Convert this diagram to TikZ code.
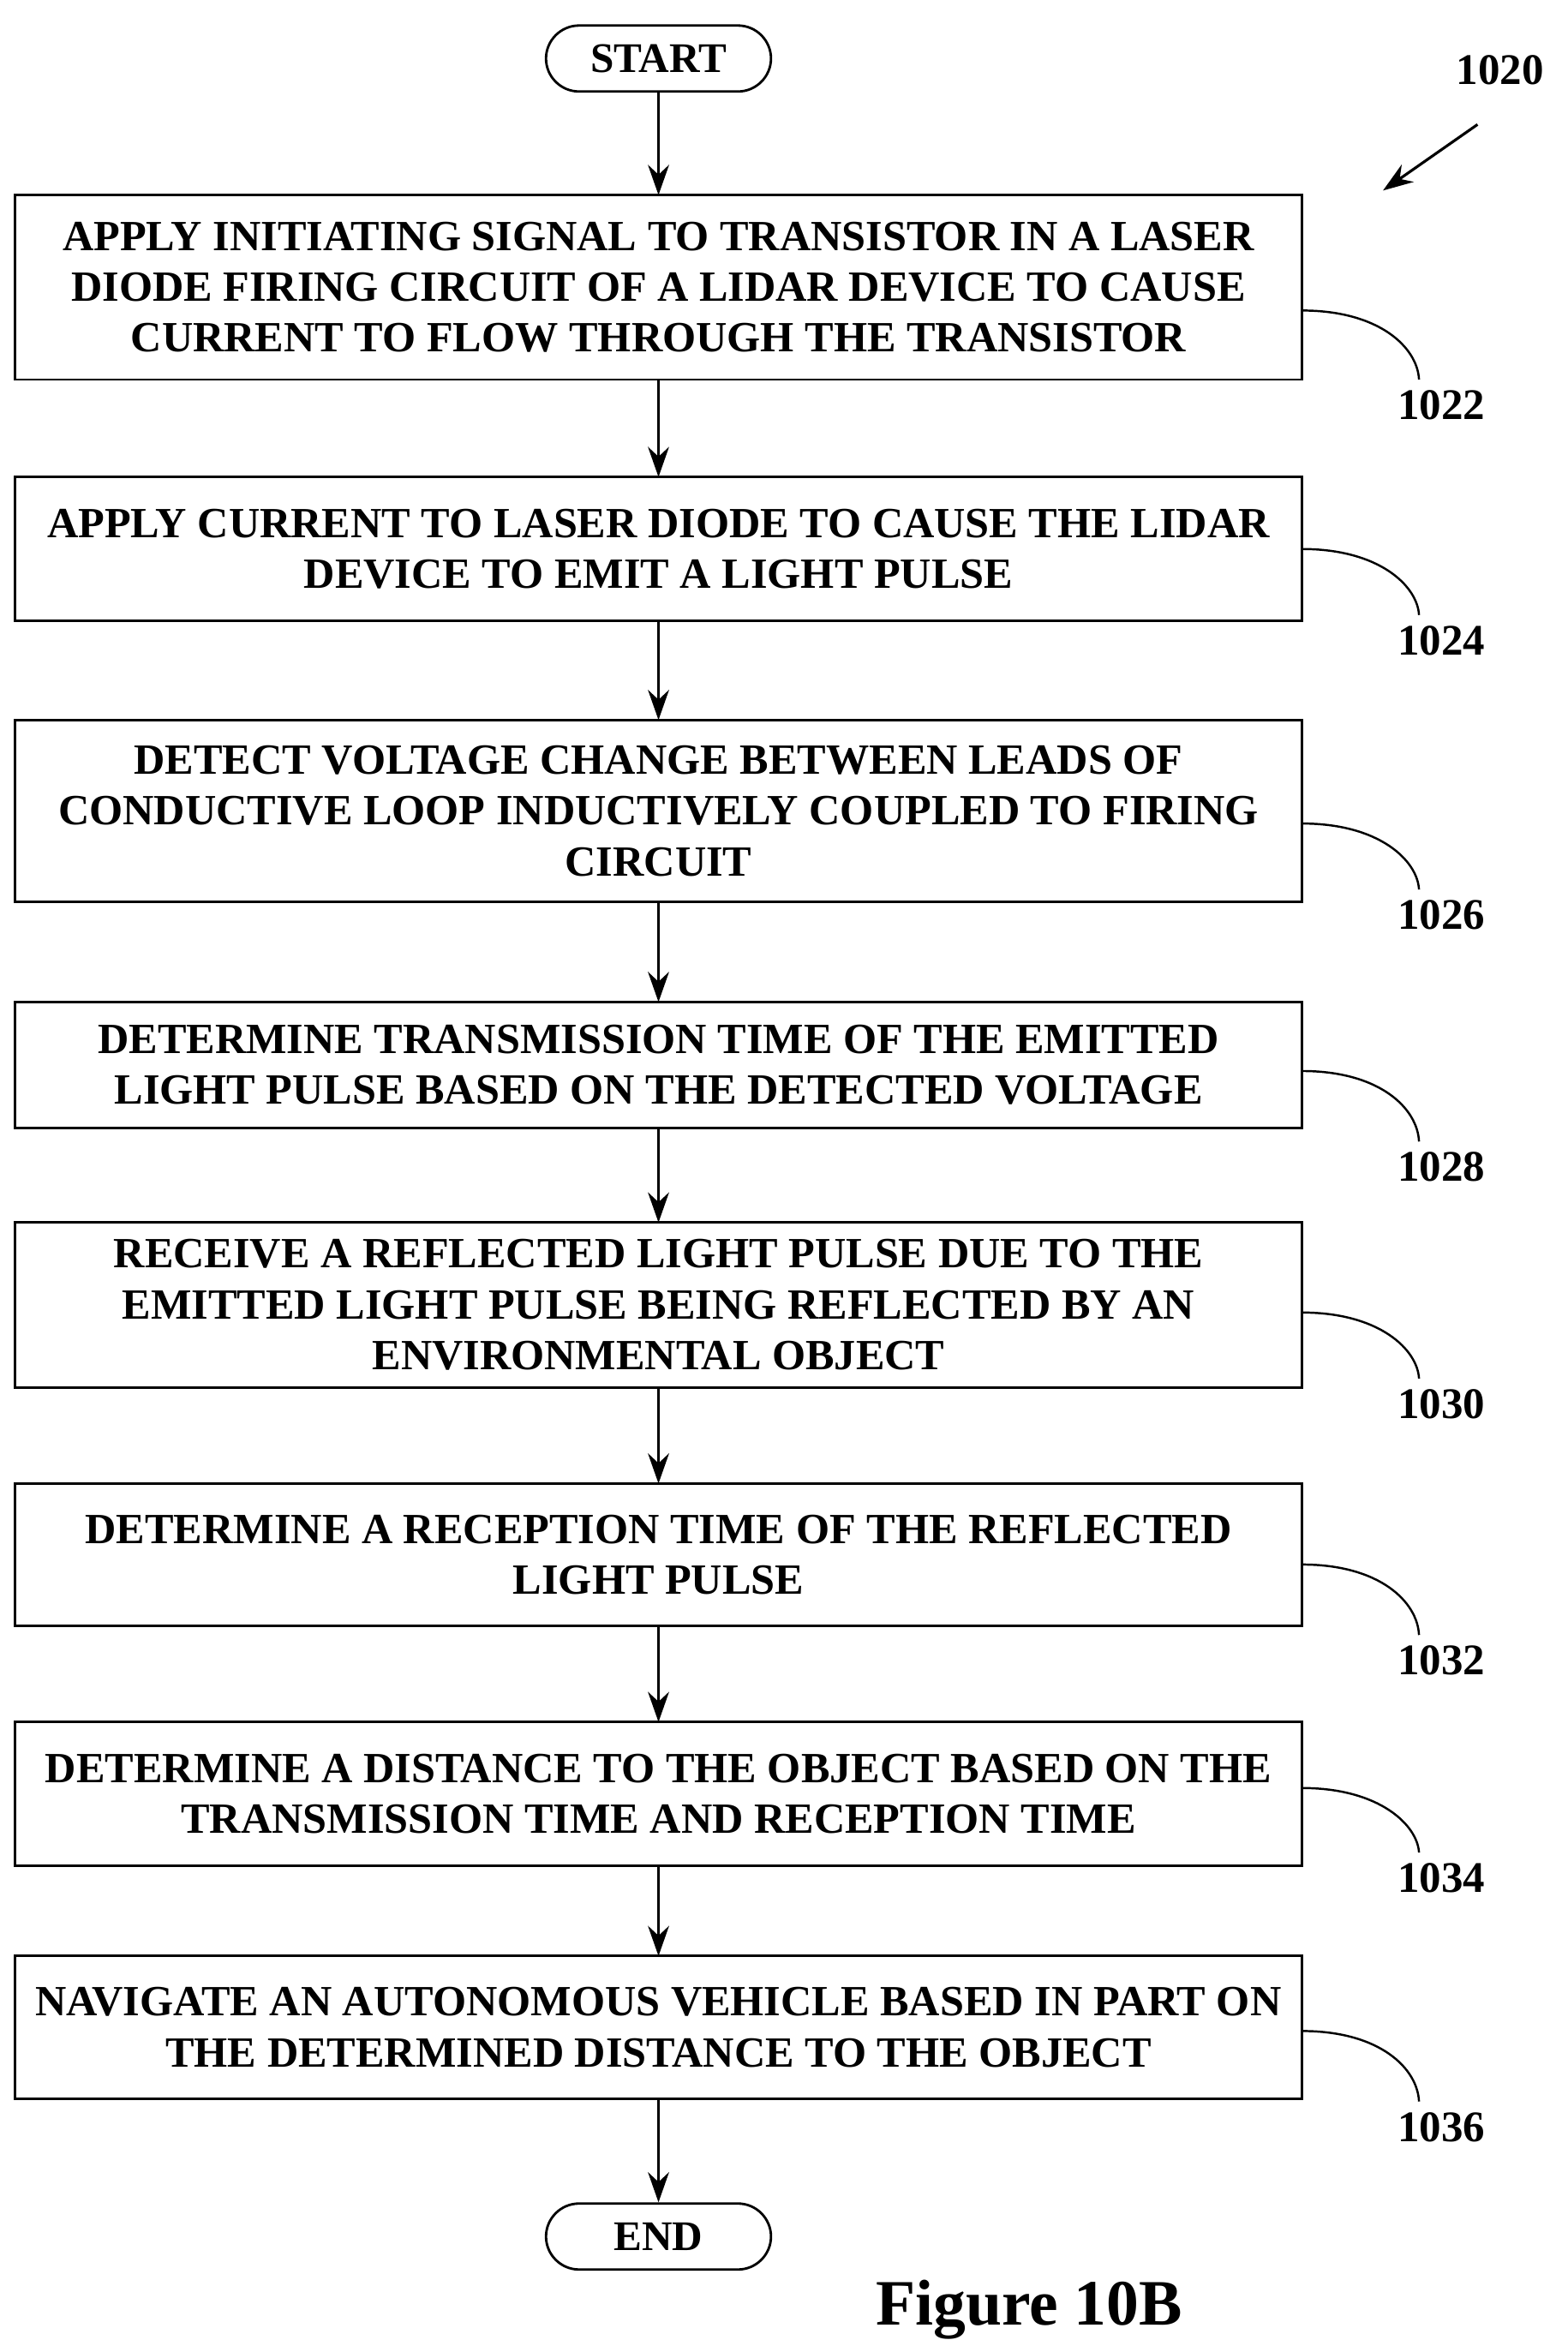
\documentclass[tikz,border=0pt]{standalone}
\usepackage{fontspec}
\setmainfont{Liberation Serif}
\usetikzlibrary{arrows.meta}
\begin{document}
\begin{tikzpicture}[x=0.0175cm,y=-0.0175cm,
  stepbox/.style={draw,line width=0.8pt,inner sep=0},
  txt/.style={align=center,font=\bfseries\fontsize{14.3}{16.9}\selectfont},
  term/.style={draw,line width=0.8pt,rounded corners=11pt,minimum width=150*0.0175cm,minimum height=44*0.0175cm,font=\bfseries\fontsize{14}{16}\selectfont},
  arr/.style={line width=0.9pt,-{Stealth[length=10pt,width=7pt]}},
  lead/.style={line width=0.7pt},
  num/.style={font=\bfseries\fontsize{14.5}{16}\selectfont}]
\useasboundingbox (0,0) rectangle (1045,1564);
\node[term] (start) at (439,39) {START};
\node[term] (end) at (439,1491) {END};
\def\bx#1#2#3#4{\draw[line width=0.8pt] (10,#2) rectangle (868,#3); \node[txt] (#1) at (439,{(#2+#3)/2}) {#4};
 \coordinate (#1t) at (439,#2); \coordinate (#1b) at (439,#3);}
\bx{b1}{130}{253}{APPLY INITIATING SIGNAL TO TRANSISTOR IN A LASER\\DIODE FIRING CIRCUIT OF A LIDAR DEVICE TO CAUSE\\CURRENT TO FLOW THROUGH THE TRANSISTOR}
\bx{b2}{318}{414}{APPLY CURRENT TO LASER DIODE TO CAUSE THE LIDAR\\DEVICE TO EMIT A LIGHT PULSE}
\bx{b3}{480}{601}{DETECT VOLTAGE CHANGE BETWEEN LEADS OF\\CONDUCTIVE LOOP INDUCTIVELY COUPLED TO FIRING\\CIRCUIT}
\bx{b4}{668}{752}{DETERMINE TRANSMISSION TIME OF THE EMITTED\\LIGHT PULSE BASED ON THE DETECTED VOLTAGE}
\bx{b5}{815}{925}{RECEIVE A REFLECTED LIGHT PULSE DUE TO THE\\EMITTED LIGHT PULSE BEING REFLECTED BY AN\\ENVIRONMENTAL OBJECT}
\bx{b6}{989}{1084}{DETERMINE A RECEPTION TIME OF THE REFLECTED\\LIGHT PULSE}
\bx{b7}{1148}{1244}{DETERMINE A DISTANCE TO THE OBJECT BASED ON THE\\TRANSMISSION TIME AND RECEPTION TIME}
\bx{b8}{1304}{1399}{NAVIGATE AN AUTONOMOUS VEHICLE BASED IN PART ON\\THE DETERMINED DISTANCE TO THE OBJECT}
\draw[arr] (start) -- (b1t);
\draw[arr] (b1b) -- (b2t);
\draw[arr] (b2b) -- (b3t);
\draw[arr] (b3b) -- (b4t);
\draw[arr] (b4b) -- (b5t);
\draw[arr] (b5b) -- (b6t);
\draw[arr] (b6b) -- (b7t);
\draw[arr] (b7b) -- (b8t);
\draw[arr] (b8b) -- (end);
\def\ld#1#2#3{\coordinate (l#3) at (868,#1);
 \node[num] (n#3) at (961,#2) {#3};
 \draw[lead] (l#3) .. controls (920,#1) and (945,{#1+25}) .. (946,{#2-17});}
\ld{207}{270}{1022}
\ld{366}{427}{1024}
\ld{549}{610}{1026}
\ld{714}{778}{1028}
\ld{875}{936}{1030}
\ld{1043}{1107}{1032}
\ld{1192}{1252}{1034}
\ld{1354}{1418}{1036}
\node[num] (n1020) at (1000,47) {1020};
\coordinate (a1020) at (922,127);
\draw[arr] (985,83) -- (a1020);
\node[font=\bfseries\fontsize{21.5}{24}\selectfont] (fig) at (686,1540) {Figure 10B};
\end{tikzpicture}
\end{document}
